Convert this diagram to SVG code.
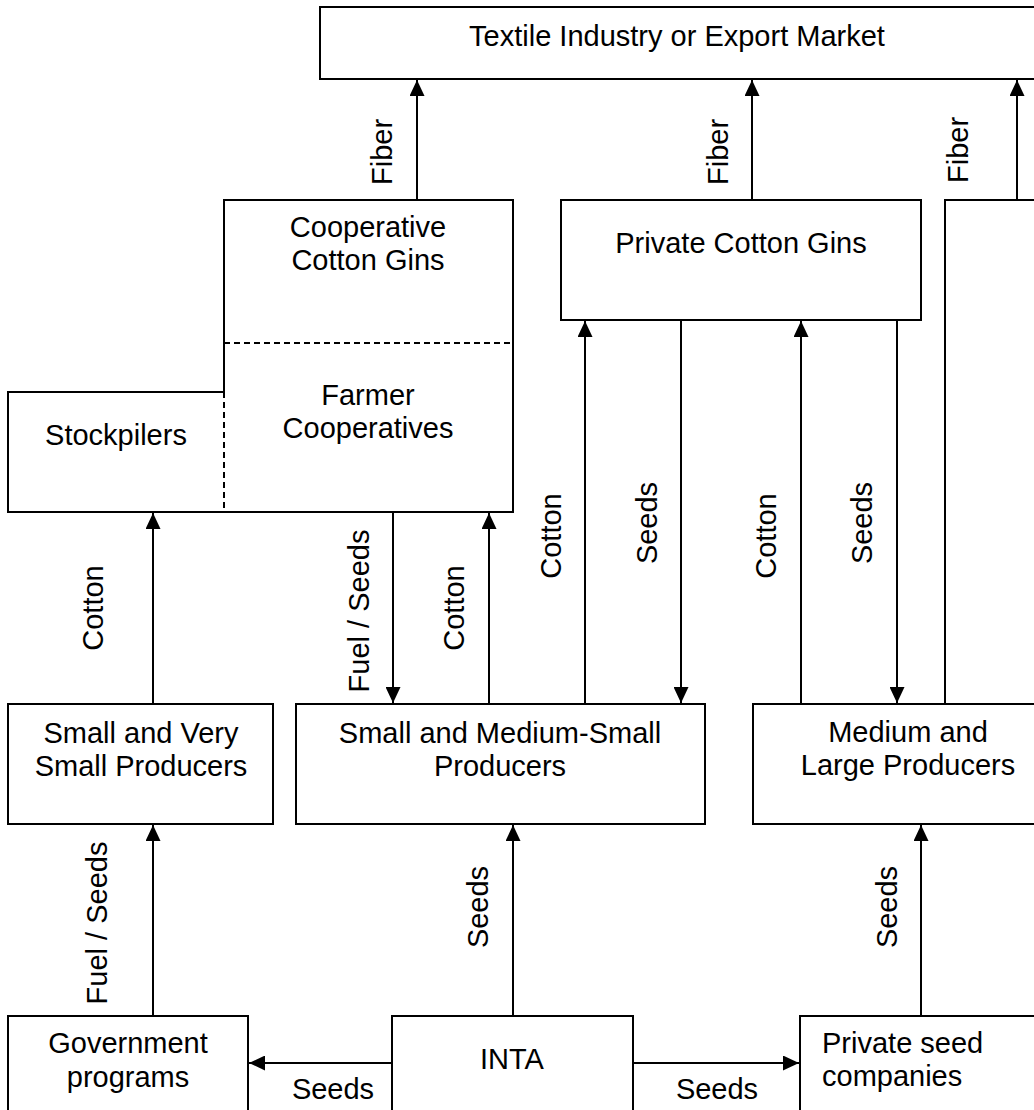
<svg xmlns="http://www.w3.org/2000/svg" width="1034" height="1110" viewBox="0 0 1034 1110">
<style>
  .box { fill: #fff; stroke: #000; stroke-width: 2; }
  .edge { fill: none; stroke: #000; stroke-width: 2; }
  .dash { fill: none; stroke: #000; stroke-width: 2; stroke-dasharray: 6 4; }
  .conn { fill: none; stroke: #000; stroke-width: 2; }
  .arr { marker-end: url(#ah); }
  text { font-family: "Liberation Sans", Arial, sans-serif; font-size: 29px; fill: #000; }
  .c { text-anchor: middle; }
</style>
<defs>
  <marker id="ah" markerUnits="userSpaceOnUse" markerWidth="16" markerHeight="15" refX="16" refY="7.5" orient="auto">
    <path d="M0,0 L16,7.5 L0,15 z" fill="#000"/>
  </marker>
</defs>
<rect width="1034" height="1110" fill="#fff"/>

<g id="textile">
  <rect class="box" x="320" y="7" width="740" height="72"/>
  <text class="c" x="677" y="46">Textile Industry or Export Market</text>
</g>

<g id="coop-gins">
  <path class="edge" d="M224,392 V200 H513 V512 H224"/>
  <line class="dash" x1="224" y1="343" x2="513" y2="343"/>
  <text class="c" x="368" y="237">Cooperative</text>
  <text class="c" x="368" y="270">Cotton Gins</text>
</g>

<g id="farmer-coops">
  <text class="c" x="368" y="405">Farmer</text>
  <text class="c" x="368" y="438">Cooperatives</text>
</g>

<g id="stockpilers">
  <path class="edge" d="M224,392 H8 V512 H224"/>
  <line class="dash" x1="224" y1="392" x2="224" y2="512"/>
  <text class="c" x="116" y="445">Stockpilers</text>
</g>

<g id="private-gins">
  <rect class="box" x="561" y="200" width="360" height="120"/>
  <text class="c" x="741" y="253">Private Cotton Gins</text>
</g>

<g id="small-very-small">
  <rect class="box" x="8" y="704" width="265" height="120"/>
  <text class="c" x="141" y="743">Small and Very</text>
  <text class="c" x="141" y="776">Small Producers</text>
</g>

<g id="small-medium">
  <rect class="box" x="296" y="704" width="409" height="120"/>
  <text class="c" x="500" y="743">Small and Medium-Small</text>
  <text class="c" x="500" y="776">Producers</text>
</g>

<g id="medium-large">
  <rect class="box" x="753" y="704" width="320" height="120"/>
  <text class="c" x="908" y="742">Medium and</text>
  <text class="c" x="908" y="775">Large Producers</text>
</g>

<g id="government">
  <rect class="box" x="8" y="1016" width="240" height="120"/>
  <text class="c" x="128" y="1053">Government</text>
  <text class="c" x="128" y="1087">programs</text>
</g>

<g id="inta">
  <rect class="box" x="392" y="1016" width="241" height="120"/>
  <text class="c" x="512" y="1069">INTA</text>
</g>

<g id="private-seed">
  <rect class="box" x="800" y="1016" width="260" height="120"/>
  <text x="822" y="1053">Private seed</text>
  <text x="822" y="1086">companies</text>
</g>

<g id="connectors">
  <line class="conn arr" x1="417" y1="200" x2="417" y2="80"/>
  <line class="conn arr" x1="752" y1="200" x2="752" y2="80"/>
  <path class="conn" d="M945,704 V200 H1040"/>
  <line class="conn arr" x1="1017" y1="200" x2="1017" y2="80"/>

  <line class="conn arr" x1="153" y1="704" x2="153" y2="513"/>
  <line class="conn arr" x1="393" y1="512" x2="393" y2="703"/>
  <line class="conn arr" x1="489" y1="704" x2="489" y2="513"/>
  <line class="conn arr" x1="585" y1="704" x2="585" y2="321"/>
  <line class="conn arr" x1="681" y1="320" x2="681" y2="703"/>
  <line class="conn arr" x1="801" y1="704" x2="801" y2="321"/>
  <line class="conn arr" x1="897" y1="320" x2="897" y2="703"/>

  <line class="conn arr" x1="153" y1="1016" x2="153" y2="825"/>
  <line class="conn arr" x1="513" y1="1016" x2="513" y2="825"/>
  <line class="conn arr" x1="921" y1="1016" x2="921" y2="825"/>

  <line class="conn arr" x1="392" y1="1063" x2="249" y2="1063"/>
  <line class="conn arr" x1="633" y1="1063" x2="799" y2="1063"/>

  <text class="c" transform="translate(392,152) rotate(-90)">Fiber</text>
  <text class="c" transform="translate(728,152) rotate(-90)">Fiber</text>
  <text class="c" transform="translate(968,150) rotate(-90)">Fiber</text>

  <text class="c" transform="translate(103,608) rotate(-90)">Cotton</text>
  <text class="c" transform="translate(369,611) rotate(-90)">Fuel / Seeds</text>
  <text class="c" transform="translate(464,608) rotate(-90)">Cotton</text>
  <text class="c" transform="translate(561,536) rotate(-90)">Cotton</text>
  <text class="c" transform="translate(657,523) rotate(-90)">Seeds</text>
  <text class="c" transform="translate(776,536) rotate(-90)">Cotton</text>
  <text class="c" transform="translate(872,523) rotate(-90)">Seeds</text>

  <text class="c" transform="translate(107,923) rotate(-90)">Fuel / Seeds</text>
  <text class="c" transform="translate(488,907) rotate(-90)">Seeds</text>
  <text class="c" transform="translate(897,907) rotate(-90)">Seeds</text>

  <text class="c" x="333" y="1099">Seeds</text>
  <text class="c" x="717" y="1099">Seeds</text>
</g>
</svg>
